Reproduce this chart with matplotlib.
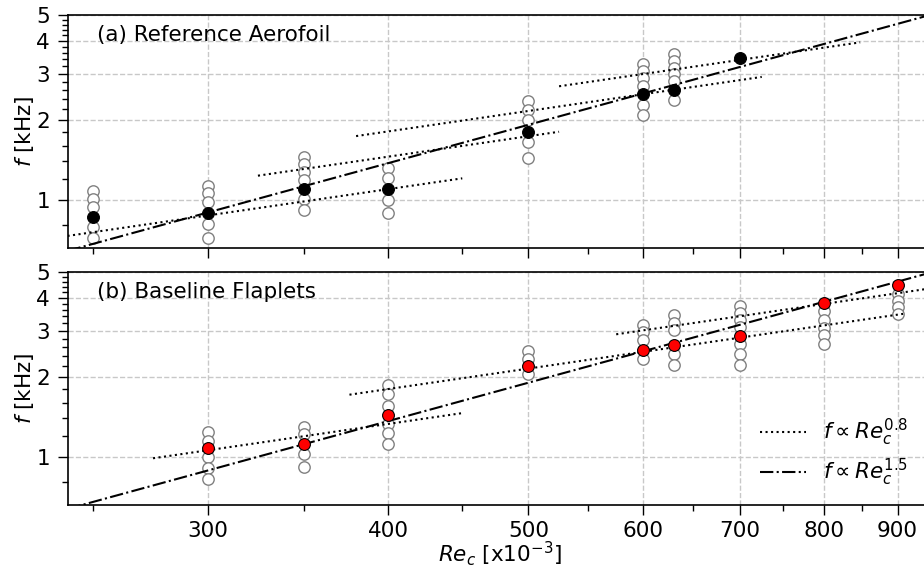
import matplotlib.pyplot as plt
from matplotlib.ticker import FixedLocator, MultipleLocator, NullFormatter, FormatStrFormatter

# (a) reference aerofoil: individual runs (open) and mean (filled)
re_top = [250, 300, 350, 400, 500, 600, 630, 700]
f_top_runs = [
    [1.079, 1.003, 0.936, 0.786, 0.712],
    [1.13, 1.057, 0.978, 0.807, 0.712],
    [1.454, 1.36, 1.276, 1.187, 1.003, 0.912],
    [1.314, 1.205, 0.997, 0.888],
    [2.36, 2.18, 2.01, 1.648, 1.441],
    [3.256, 3.063, 2.89, 2.705, 2.279, 2.089],
    [3.573, 3.35, 3.164, 2.985, 2.816, 2.395],
    [],
]
f_top_mean = [0.86, 0.893, 1.095, 1.10, 1.80, 2.523, 2.613, 3.45]

# (b) baseline flaplets
re_bot = [300, 350, 400, 500, 600, 630, 700, 800, 900]
f_bot_runs = [
    [1.237, 1.15, 0.994, 0.906, 0.823],
    [1.292, 1.212, 1.018, 0.916],
    [1.86, 1.72, 1.548, 1.331, 1.23, 1.117],
    [2.51, 2.349, 2.06],
    [3.143, 2.964, 2.773, 2.349],
    [3.43, 3.207, 3.009, 2.439, 2.216],
    [3.73, 3.498, 3.295, 3.088, 2.662, 2.454, 2.229],
    [3.55, 3.3, 3.08, 2.88, 2.68],
    [4.12, 3.9, 3.7, 3.46],
]
f_bot_mean = [1.075, 1.111, 1.431, 2.21, 2.542, 2.638, 2.868, 3.83, 4.48]

# Re^0.8 segments: start Re, end Re, f at start
seg_top_start = [240, 325, 380, 525]
seg_top_end = [450, 525, 725, 848]
seg_top_f0 = [0.728, 1.232, 1.741, 2.69]
seg_bot_start = [275, 376, 575]
seg_bot_end = [450, 908, 950]
seg_bot_f0 = [0.985, 1.715, 2.905]

# Re^1.5 line: value at Re = 300
c15_top = 0.893
c15_bot = 0.885

xticks = [300, 400, 500, 600, 700, 800, 900]
xminor = [250, 350, 450, 550, 650, 750, 850]
yticks = [1, 2, 3, 4, 5]

fs = 15.5

fig = plt.figure(figsize=(9.24, 5.67), dpi=100)
ax1 = fig.add_axes([0.0731, 0.5626, 0.935, 0.4104])
ax2 = fig.add_axes([0.0731, 0.1093, 0.935, 0.4109], sharex=ax1)


def draw(ax, re, runs, mean, mcol, s0, s1, sf, c15, title):
    for r, fr in zip(re, runs):
        ax.plot([r] * len(fr), fr, 'o', mfc='white', mec='#808080', ms=8.2, mew=1, zorder=2)
    for i, (a, b, f0) in enumerate(zip(s0, s1, sf)):
        ax.plot([a, b], [f0, f0 * (b / a) ** 0.8], ':', color='k', lw=1.5, zorder=3,
                label=r'$f\propto Re_c^{0.8}$' if i == 0 else None)
    ax.plot([240, 950], [c15 * (240 / 300) ** 1.5, c15 * (950 / 300) ** 1.5], '-.',
            color='k', lw=1.5, zorder=3, label=r'$f\propto Re_c^{1.5}$')
    ax.plot(re, mean, 'o', mfc=mcol, mec='k', ms=8.5, mew=0.8, zorder=4)
    ax.set_xscale('log')
    ax.set_yscale('log')
    ax.set_xlim(240, 950)
    ax.set_ylim(0.655, 5)
    ax.xaxis.set_major_locator(FixedLocator(xticks))
    ax.xaxis.set_minor_locator(FixedLocator(xminor))
    ax.xaxis.set_major_formatter(FormatStrFormatter('%d'))
    ax.xaxis.set_minor_formatter(NullFormatter())
    ax.yaxis.set_major_locator(FixedLocator(yticks))
    ax.yaxis.set_minor_locator(MultipleLocator(0.2))
    ax.yaxis.set_major_formatter(FormatStrFormatter('%d'))
    ax.yaxis.set_minor_formatter(NullFormatter())
    ax.tick_params(which='major', length=7, width=1, labelsize=fs, pad=5.5)
    ax.tick_params(axis='x', which='major', pad=4.5)
    ax.tick_params(which='minor', length=4, width=1)
    ax.grid(True, which='major', ls='--', color='#c8c8c8', lw=1)
    ax.set_axisbelow(True)
    for s in ax.spines.values():
        s.set_linewidth(1.2)
    ax.set_ylabel('$f$ [kHz]', fontsize=fs)
    ax.yaxis.set_label_coords(-0.036, 0.5)
    ax.text(0.034, 0.915, title, transform=ax.transAxes, fontsize=fs, va='center', ha='left')


draw(ax1, re_top, f_top_runs, f_top_mean, 'black',
     seg_top_start, seg_top_end, seg_top_f0, c15_top, '(a) Reference Aerofoil')
draw(ax2, re_bot, f_bot_runs, f_bot_mean, 'red',
     seg_bot_start, seg_bot_end, seg_bot_f0, c15_bot, '(b) Baseline Flaplets')

plt.setp(ax1.get_xticklabels(), visible=False)
ax2.set_xlabel('$Re_c$ [x10$^{-3}$]', fontsize=fs)
ax2.xaxis.set_label_coords(0.5, -0.148)
ax2.legend(loc='lower right', bbox_to_anchor=(0.995, -0.01), frameon=False,
           fontsize=fs, handlelength=2.1, labelspacing=0.4)

fig.savefig('out.png', dpi=100)
